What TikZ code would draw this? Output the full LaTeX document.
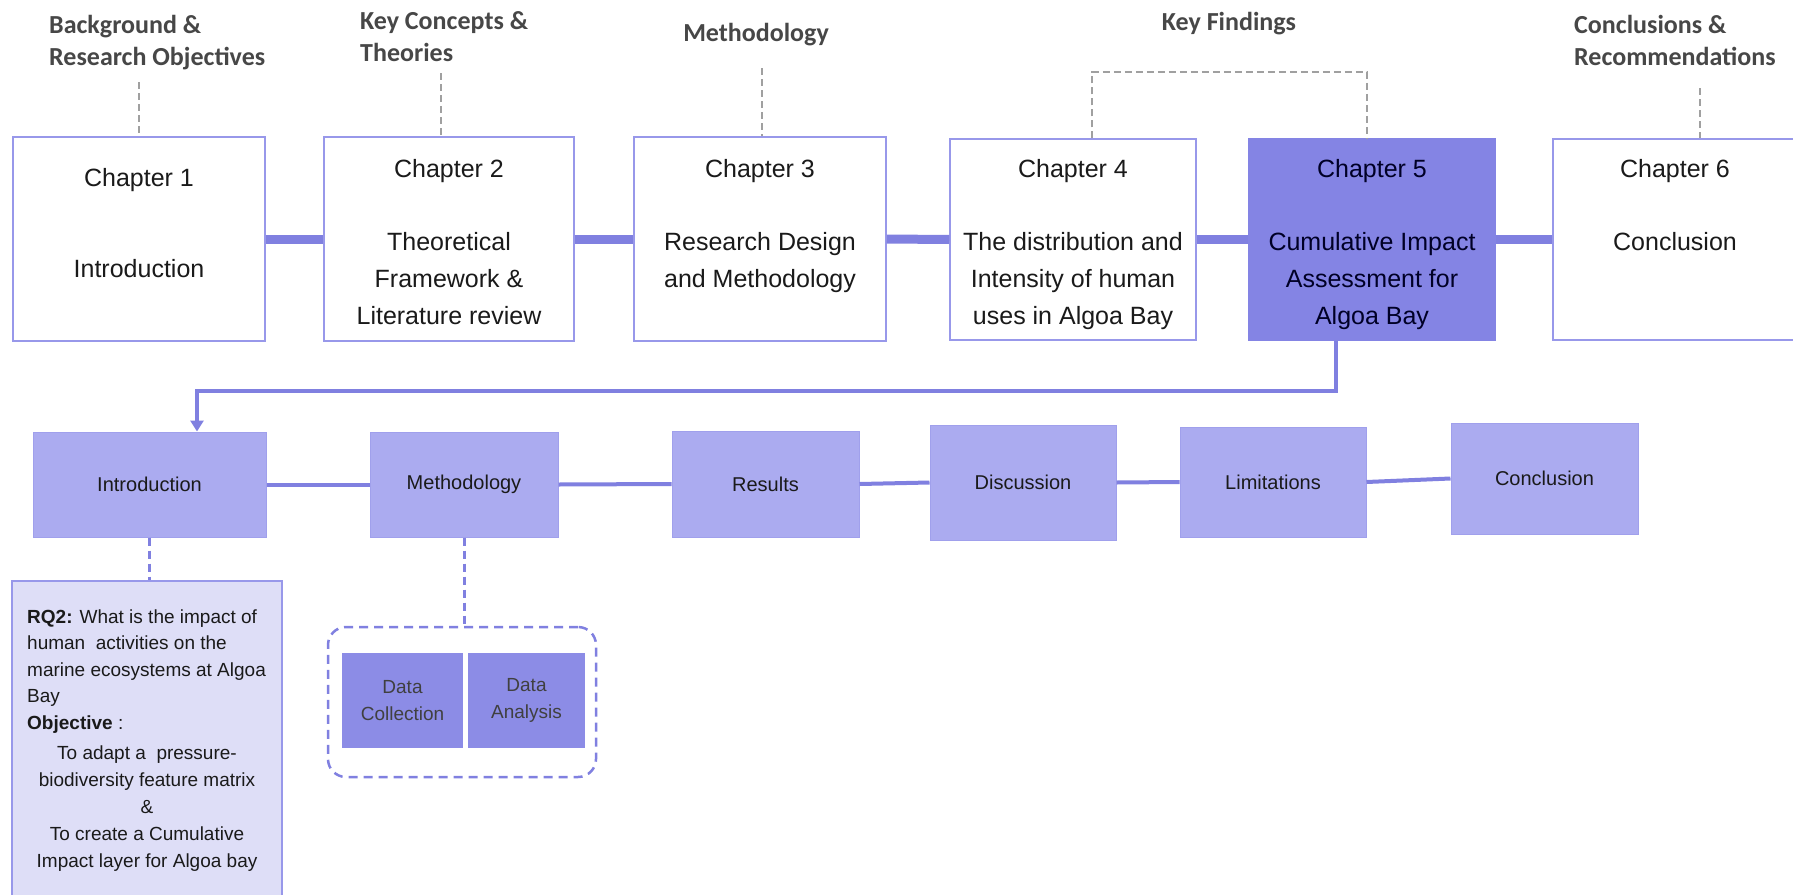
\documentclass[tikz,border=0pt]{standalone}
\usepackage{fontspec}
\setmainfont{Liberation Sans}
\newfontfamily\headfont{Carlito}
\usetikzlibrary{arrows.meta}

\definecolor{chapline}{HTML}{9898EA}
\definecolor{conn}{HTML}{8080E0}
\definecolor{hifill}{HTML}{8484E4}
\definecolor{rowfill}{HTML}{ABABF0}
\definecolor{rowline}{HTML}{A0A0EC}
\definecolor{rqfill}{HTML}{DEDEF7}
\definecolor{datafill}{HTML}{8C8CE6}
\definecolor{guidegray}{HTML}{A0A0A0}
\definecolor{inktext}{HTML}{1A1A1A}

\begin{document}
\begin{tikzpicture}[x=1pt,y=-1pt,
  chapbox/.style={draw=chapline, line width=1.5pt, fill=white, inner sep=0pt},
  chaptext/.style={font=\fontsize{25}{37}\selectfont, align=center, inner sep=0pt, text=inktext, anchor=north},
  headlbl/.style={font=\headfont\bfseries\fontsize{26}{32}\selectfont, align=left, inner sep=0pt, text=black!72},
  link/.style={draw=conn, line width=9pt},
  guide/.style={draw=guidegray, line width=2pt, dash pattern=on 7pt off 4pt},
  rowbox/.style={fill=rowfill, draw=rowline, line width=1pt, inner sep=0pt, font=\fontsize{20}{24}\selectfont, text=inktext},
  rowlink/.style={draw=conn, line width=4pt},
  feedline/.style={draw=conn, line width=4pt, -{Triangle[length=11pt,width=13pt]}},
  purpledash/.style={draw=conn, line width=3pt, dash pattern=on 8pt off 5pt},
  databox/.style={fill=datafill, inner sep=0pt, font=\fontsize{19}{27}\selectfont, align=center, text=black!75}
]
\useasboundingbox (0,0) rectangle (1793,894);
\fill[white] (0,0) rectangle (1793,894);
\clip (0,0) rectangle (1793,894);

% ---- section headings ----
\node[headlbl, anchor=north west] (h1) at (49,15.5) {Background \&\\Research Objectives};
\node[headlbl, anchor=north west] (h2) at (360,11.5) {Key Concepts \&\\Theories};
\node[headlbl, anchor=base] (h3) at (756,41.4) {Methodology};
\node[headlbl, anchor=base] (h4) at (1229,30.4) {Key Findings};
\node[headlbl, anchor=north west] (h5) at (1574,14.6) {Conclusions \&\\Recommendations};

% ---- chapter boxes ----
\node[chapbox, minimum width=252pt, minimum height=204pt] (c1) at (139,239) {};
\node[chapbox, minimum width=250pt, minimum height=204pt] (c2) at (449,239) {};
\node[chapbox, minimum width=252pt, minimum height=204pt] (c3) at (760,239) {};
\node[chapbox, minimum width=246pt, minimum height=201pt] (c4) at (1073,239.5) {};
\node[chapbox, fill=hifill, draw=hifill, minimum width=246pt, minimum height=201pt] (c5) at (1372,239.5) {};
\node[chapbox, minimum width=244pt, minimum height=201pt] (c6) at (1675,239.5) {};

% thick links between chapters
\draw[link] (c1.east) -- (c2.west);
\draw[link] (c2.east) -- (c3.west);
\draw[link] (c3.east) -- (c4.west);
\draw[link] (c4.east) -- (c5.west);
\draw[link] (c5.east) -- (c6.west);

% chapter texts
\node[chaptext] (c1t) at (139,168) {Chapter 1\\[54pt]Introduction};
\node[chaptext] (c2t) at (449,159) {Chapter 2\\[36pt]Theoretical\\Framework \&\\Literature review};
\node[chaptext] (c3t) at (760,159) {Chapter 3\\[36pt]Research Design\\and Methodology};
\node[chaptext] (c4t) at (1073,159) {Chapter 4\\[36pt]The distribution and\\Intensity of human\\uses in Algoa Bay};
\node[chaptext, text=black!85!blue] (c5t) at (1372,159) {Chapter 5\\[36pt]Cumulative Impact\\Assessment for\\Algoa Bay};
\node[chaptext] (c6t) at (1675,159) {Chapter 6\\[36pt]Conclusion};

% dashed guides from headings
\coordinate (g1) at (139,82);
\coordinate (g2) at (441,73);
\coordinate (g3) at (762,68);
\coordinate (g4a) at (1092,72);
\coordinate (g4b) at (1367,72);
\coordinate (g5) at (1700,88);
\draw[guide] (g1) -- (g1 |- c1.north);
\draw[guide] (g2) -- (g2 |- c2.north);
\draw[guide] (g3) -- (g3 |- c3.north);
\draw[guide] (g4a |- c4.north) -- (g4a) -- (g4b) -- (g4b |- c5.north);
\draw[guide] (g5) -- (g5 |- c6.north);

% ---- chapter 5 breakdown ----
\node[rowbox, minimum width=233pt, minimum height=105pt] (b1) at (149.5,484.5) {Introduction};
\node[rowbox, minimum width=188pt, minimum height=105pt] (b2) at (464,484.5) {Methodology};
\node[rowbox, minimum width=187pt, minimum height=106pt] (b3) at (765.5,484) {Results};
\node[rowbox, minimum width=186pt, minimum height=115pt] (b4) at (1023,482.5) {Discussion};
\node[rowbox, minimum width=186pt, minimum height=110pt] (b5) at (1273,482) {Limitations};
\node[rowbox, minimum width=187pt, minimum height=111pt] (b6) at (1544.5,478.5) {Conclusion};

\draw[rowlink] (b1.east) -- (b2.west);
\draw[rowlink] (b2.east) -- (b3.west);
\draw[rowlink] (b3.east) -- (b4.west);
\draw[rowlink] (b4.east) -- (b5.west);
\draw[rowlink] (b5.east) -- (b6.west);

% feedback arrow from chapter 5 to its outline
\coordinate (drop) at (1336,391);
\coordinate (turn) at (197,391);
\draw[feedline] (c5.south -| drop) -- (drop) -- (turn) -- (turn |- b1.north);

% research question box
\node[fill=rqfill, draw=chapline, line width=1.5pt, inner sep=0pt, minimum width=270pt, minimum height=330pt] (rq) at (147,746) {};
\node[anchor=north west, align=left, inner sep=0pt, font=\fontsize{19}{26.5}\selectfont, text=inktext] (rqt) at (27,609.5)
  {\textbf{RQ2:} What is the impact of\\human\ \ activities on the\\marine ecosystems at Algoa\\Bay\\\textbf{Objective} :};
\node[anchor=north, align=center, inner sep=0pt, font=\fontsize{19}{27}\selectfont, text=inktext] (objt) at (147,746)
  {To adapt a\ \ pressure-\\biodiversity feature matrix\\\&\\To create a Cumulative\\Impact layer for Algoa bay};
\draw[purpledash] (b1.south) -- (b1.south |- rq.north);

% methodology detail group
\node[draw=conn, line width=2.5pt, dash pattern=on 9pt off 6pt, rounded corners=18pt, minimum width=268pt, minimum height=150pt, inner sep=0pt] (grp) at (462,702) {};
\node[databox, minimum width=121pt, minimum height=95pt] (dc) at (402.5,700.5) {Data\\Collection};
\node[databox, minimum width=117pt, minimum height=95pt] (da) at (526.5,700.5) {Data\\Analysis};
\draw[purpledash] (b2.south) -- (b2.south |- grp.north);

\end{tikzpicture}
\end{document}
